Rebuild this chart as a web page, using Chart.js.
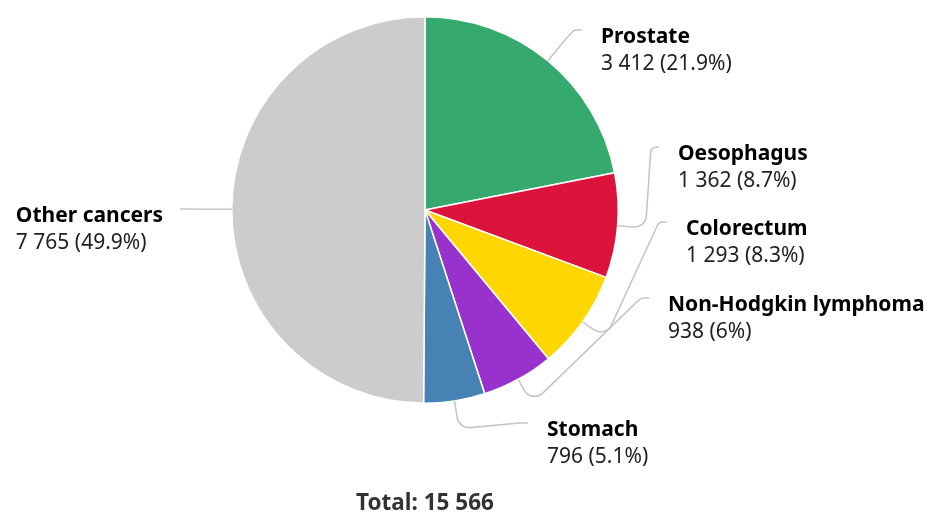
<!DOCTYPE html>
<html>
<head>
<meta charset="utf-8">
<script src="https://cdn.jsdelivr.net/npm/chart.js@4"></script>
<style>
html,body{margin:0;padding:0;background:#fff;}
#wrap{position:relative;width:933px;height:514px;}
</style>
</head>
<body>
<div id="wrap"><canvas id="c" width="933" height="514"></canvas></div>
<script>
// ---- data ----
const categories = ["Prostate", "Oesophagus", "Colorectum", "Non-Hodgkin lymphoma", "Stomach", "Other cancers"];
const cases = [3412, 1362, 1293, 938, 796, 7765];
const percentLabels = ["21.9%", "8.7%", "8.3%", "6%", "5.1%", "49.9%"];
const totalLabel = "Total: 15 566";

// ---- styles / layout (not data) ----
const colors = ["#36a96f", "#dc143c", "#ffd700", "#9932cc", "#4682b4", "#cccccc"];
// leader-line end points and label side
const labelAnchors = [
  {x: 582, y: 30, side: "right"},
  {x: 659, y: 147, side: "right"},
  {x: 667, y: 222, side: "right"},
  {x: 649, y: 298, side: "right"},
  {x: 528, y: 423, side: "right"},
  {x: 180, y: 209, side: "left"}
];
const FONT = '"Noto Sans", "Open Sans", sans-serif';

function fmt(n){ return String(n).replace(/\B(?=(\d{3})+(?!\d))/g, " "); }

const labelPlugin = {
  id: "leaderLabels",
  afterDraw(chart){
    const ctx = chart.ctx;
    const meta = chart.getDatasetMeta(0);
    ctx.save();
    meta.data.forEach((arc, i) => {
      const mid = (arc.startAngle + arc.endAngle) / 2;
      const R = arc.outerRadius;
      const cx = arc.x, cy = arc.y;
      const s = {x: cx + R*Math.cos(mid), y: cy + R*Math.sin(mid)};
      const p1 = {x: cx + (R+28)*Math.cos(mid), y: cy + (R+28)*Math.sin(mid)};
      const a = labelAnchors[i];
      const dir = a.side === "right" ? 1 : -1;
      const p2 = {x: a.x - dir*8, y: a.y};
      ctx.beginPath();
      ctx.moveTo(s.x, s.y);
      ctx.arcTo(p1.x, p1.y, p2.x, p2.y, 12);
      ctx.arcTo(p2.x, p2.y, a.x, a.y, 6);
      ctx.lineTo(a.x, a.y);
      ctx.strokeStyle = "#c6c6c6";
      ctx.lineWidth = 1.6;
      ctx.stroke();

      const nameFont = "bold 21px " + FONT;
      const valFont = "21px " + FONT;
      const name = categories[i];
      const val = fmt(cases[i]) + " (" + percentLabels[i] + ")";
      ctx.textBaseline = "middle";
      ctx.textAlign = "left";
      let tx;
      if (a.side === "right") {
        tx = a.x + 19;
      } else {
        ctx.font = nameFont; const w1 = ctx.measureText(name).width;
        ctx.font = valFont; const w2 = ctx.measureText(val).width;
        tx = a.x - 17 - Math.max(w1, w2);
      }
      const ny = a.y + 7;
      ctx.fillStyle = "#000";
      ctx.font = nameFont;
      ctx.fillText(name, tx, ny);
      ctx.fillStyle = "#222";
      ctx.font = valFont;
      ctx.fillText(val, tx, ny + 27);
    });
    ctx.font = "bold 22.5px " + FONT;
    ctx.fillStyle = "#333";
    ctx.textAlign = "center";
    ctx.textBaseline = "middle";
    ctx.fillText(totalLabel, 425, 504);
    ctx.restore();
  }
};

new Chart(document.getElementById("c"), {
  type: "pie",
  data: {
    labels: categories,
    datasets: [{
      data: cases,
      backgroundColor: colors,
      borderColor: "#ffffff",
      borderWidth: 1.5,
      hoverOffset: 0
    }]
  },
  options: {
    responsive: false,
    animation: false,
    events: [],
    layout: {padding: {left: 231, right: 314, top: 16, bottom: 110}},
    plugins: {legend: {display: false}, tooltip: {enabled: false}}
  },
  plugins: [labelPlugin]
});
</script>
</body>
</html>
